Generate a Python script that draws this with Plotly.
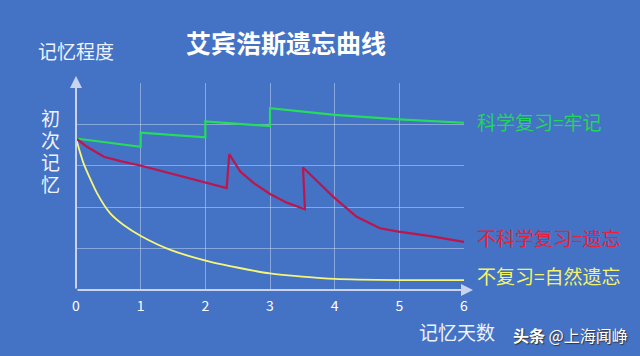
import plotly.graph_objects as go

# Days (x) and memory level (y)
yellow_x = [0, 0.117, 0.325, 0.53, 0.736, 1.01, 1.46, 2.08, 3.0, 4.0, 5.0, 6.0]
yellow_y = [3.66, 3.06, 2.34, 1.85, 1.57, 1.30, 0.97, 0.68, 0.40, 0.27, 0.24, 0.24]

green_x = [0, 1.0, 1.0, 2.0, 2.0, 3.0, 3.0, 3.52, 4.0, 5.0, 6.0]
green_y = [3.66, 3.46, 3.80, 3.69, 4.07, 3.96, 4.39, 4.31, 4.23, 4.12, 4.04]

red_x = [0, 0.08, 0.17, 0.43, 0.72, 1.01, 1.46, 1.97, 2.33, 2.37, 2.54, 2.75, 3.0, 3.26, 3.54, 3.51,
         3.98, 4.34, 4.70, 4.99, 5.48, 6.0]
red_y = [3.66, 3.56, 3.46, 3.22, 3.10, 3.0, 2.82, 2.62, 2.46, 3.28, 2.86, 2.58, 2.32, 2.11, 1.95, 2.96,
         2.25, 1.77, 1.49, 1.41, 1.30, 1.16]

x_ticks = [0, 1, 2, 3, 4, 5, 6]
labels = ["科学复习=牢记", "不科学复习=遗忘", "不复习=自然遗忘"]
label_y = [4.06, 1.26, 0.34]
label_colors = ["#22d65a", "#e8203c", "#f4f46a"]
side_chars = ["初", "次", "记", "忆"]

FONT = "Noto Sans CJK SC"
BG = "#4472c4"
AX = "#c9d3f0"

W, H = 640, 356
L, R, T, B = 76, 176, 83, 66
pw, ph = W - L - R, H - T - B


def px(x):
    return (x - L) / pw


def py(y):
    return (H - B - y) / ph


fig = go.Figure()
fig.add_trace(go.Scatter(x=yellow_x, y=yellow_y, mode="lines",
                         line=dict(color="#f6f67a", width=1.8, shape="spline", smoothing=0.6), hoverinfo="skip"))
fig.add_trace(go.Scatter(x=green_x, y=green_y, mode="lines", line=dict(color="#25dd5c", width=2.2), hoverinfo="skip"))
fig.add_trace(go.Scatter(x=red_x, y=red_y, mode="lines", line=dict(color="#bc164c", width=2.2), hoverinfo="skip"))

ann = []
for t, yv, c in zip(labels, label_y, label_colors):
    ann.append(dict(x=px(475), xref="paper", y=yv, yref="y", text=t, showarrow=False,
                    xanchor="left", yanchor="middle", font=dict(family=FONT, size=19, color=c)))
# axes with arrows
ann.append(dict(x=px(473), xref="paper", y=0, yref="y", ax=-(473 - L), ay=0,
                text="", showarrow=True, arrowhead=2, arrowsize=1.2, arrowwidth=2, arrowcolor=AX))
ann.append(dict(x=0, xref="x", y=py(76), yref="paper", ax=0, ay=290 - 76, text="", showarrow=True,
                arrowhead=2, arrowsize=1.2, arrowwidth=2, arrowcolor=AX))


def text_ann(x, y, text, size, color, shadow="none"):
    return dict(x=px(x), y=py(y), xref="paper", yref="paper", text=text, showarrow=False,
                xanchor="center", yanchor="middle",
                font=dict(family=FONT, size=size, color=color, shadow=shadow))


ann.append(text_ann(286, 42, "<b>艾宾浩斯遗忘曲线</b>", 25, "white"))
ann.append(text_ann(76, 51, "记忆程度", 19, "#eef2fb"))
for i, ch in enumerate(side_chars):
    ann.append(text_ann(50, 117 + 22 * i, ch, 19, "#eef2fb"))
ann.append(text_ann(457, 331, "记忆天数", 19, "#eef2fb"))
ann.append(text_ann(570, 335, "<b>头条</b> @上海闻峥", 16, "white", "1px 1px 1px #333"))

fig.update_layout(
    width=W, height=H,
    margin=dict(l=L, r=R, t=T, b=B, autoexpand=False),
    paper_bgcolor=BG, plot_bgcolor=BG,
    showlegend=False,
    annotations=ann,
    xaxis=dict(range=[0, 6], tickvals=x_ticks, showgrid=True, gridcolor="rgba(220,230,255,0.45)", gridwidth=1,
               zeroline=False, showline=False, ticks="", ticklabelstandoff=6,
               tickfont=dict(family=FONT, size=14, color="white"), fixedrange=True),
    yaxis=dict(range=[0, 5], tickvals=[1, 2, 3, 4, 5], showgrid=True, gridcolor="rgba(220,230,255,0.45)", gridwidth=1,
               zeroline=False, showline=False, showticklabels=False, ticks="", fixedrange=True),
)
fig.write_html("out.html", config={"displayModeBar": False},
               post_script="document.body.style.margin='0';document.body.style.background='#4472c4';")
